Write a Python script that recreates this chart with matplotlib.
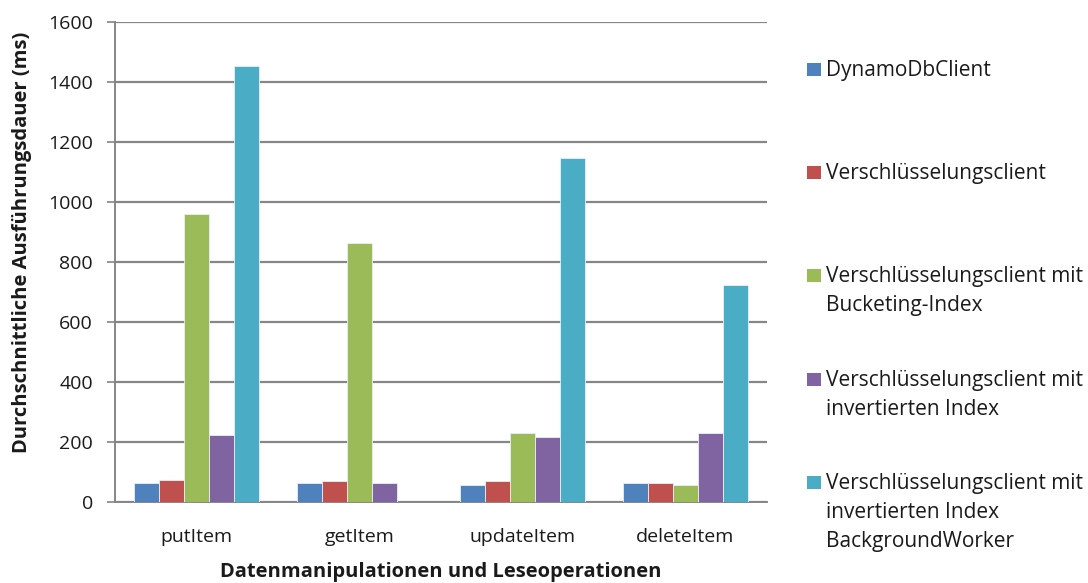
import numpy as np
import matplotlib
matplotlib.use('Agg')
from matplotlib import pyplot as plt
from matplotlib.patches import Rectangle

plt.rcParams['font.family'] = ['Open Sans', 'DejaVu Sans']

operations = ['putItem', 'getItem', 'updateItem', 'deleteItem']

series_names = [
    'DynamoDbClient',
    'Verschlüsselungsclient',
    'Verschlüsselungsclient mit\nBucketing-Index',
    'Verschlüsselungsclient mit\ninvertierten Index',
    'Verschlüsselungsclient mit\ninvertierten Index\nBackgroundWorker',
]
series_colors = ['#4F81BD', '#C0504D', '#9BBB59', '#8064A2', '#4BACC6']

# average execution time in ms, one list per client variant
dynamo_client = [62, 62, 56, 62]
crypto_client = [75, 70, 70, 62]
crypto_bucketing = [960, 863, 229, 56]
crypto_inverted = [222, 62, 216, 229]
crypto_inverted_worker = [1452, 0, 1147, 722]

series_values = [dynamo_client, crypto_client, crypto_bucketing,
                 crypto_inverted, crypto_inverted_worker]

y_ticks = list(range(0, 1601, 200))

axis_grey = '#868686'
text_col = '#1a1a1a'
W, H = 1088, 583

fig = plt.figure(figsize=(W / 100, H / 100), dpi=100)
ax = fig.add_axes([115 / W, 1 - 502 / H, 652 / W, 480 / H])

x = np.arange(len(operations))
w = 1 / 6.5  # five bars plus 150% gap per category
for i, (vals, col) in enumerate(zip(series_values, series_colors)):
    ax.bar(x + (i - 2) * w, vals, w, color=col, edgecolor='#e8f0f8',
           linewidth=0.6, zorder=3)

ax.set_xlim(-0.5, len(operations) - 0.5)
ax.set_ylim(0, 1600)
ax.set_yticks(y_ticks)
ax.set_xticks(x)
ax.set_xticklabels(operations)

ax.yaxis.grid(True, color=axis_grey, linewidth=1.6)
ax.set_axisbelow(True)
for side in ['top', 'right']:
    ax.spines[side].set_visible(False)
for side in ['left', 'bottom']:
    ax.spines[side].set_color(axis_grey)
    ax.spines[side].set_linewidth(1.4)

ax.tick_params(axis='y', direction='out', length=6, width=1.2, color=axis_grey,
               pad=10, labelsize=14, labelcolor=text_col)
ax.tick_params(axis='x', length=0, pad=19, labelsize=14, labelcolor=text_col)

fig.text(22 / W, 1 - 242 / H, 'Durchschnittliche Ausführungsdauer (ms)', rotation=90,
         ha='center', va='center', fontsize=14.5, fontweight='bold', color=text_col)
fig.text(441 / W, 1 - 572 / H, 'Datenmanipulationen und Leseoperationen',
         ha='center', va='center', fontsize=14.5, fontweight='bold', color=text_col)

# legend on the right: one entry every ~103 px, wrapped lines ~29 px apart
leg_x = 807 / W
first_base = 76
step = 103.2
line_step = 29
for i, (name, col) in enumerate(zip(series_names, series_colors)):
    base = first_base + i * step
    fig.patches.append(Rectangle((leg_x, 1 - base / H), 14 / W, 13 / H,
                                 transform=fig.transFigure, facecolor=col,
                                 edgecolor='none'))
    for j, line in enumerate(name.split('\n')):
        fig.text(leg_x + 19 / W, 1 - (base + j * line_step) / H, line,
                 ha='left', va='baseline', fontsize=15, color=text_col)

fig.savefig('out.png', dpi=100)
